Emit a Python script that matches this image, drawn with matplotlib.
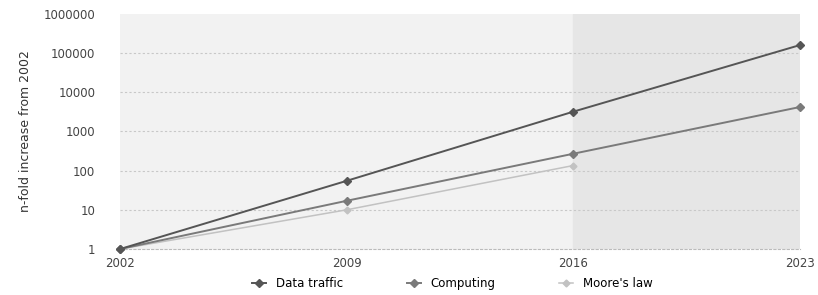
import numpy as np
import matplotlib.pyplot as plt
from matplotlib.ticker import FixedLocator, FixedFormatter, NullLocator

# Data
years = [2002, 2009, 2016, 2023]
data_traffic = [1, 55, 3200, 160000]
computing = [1, 17, 270, 4200]
moore_years = [2002, 2009, 2016]
moores_law = [1, 10, 135]

y_ticks = [1, 10, 100, 1000, 10000, 100000, 1000000]

fig = plt.figure(figsize=(8.18, 2.95), dpi=100)
ax = fig.add_axes([0.147, 0.156, 0.831, 0.797])

ax.set_yscale('log')
ax.set_xlim(2002, 2023)
ax.set_ylim(1, 1000000)

# Shaded backgrounds (forecast part darker)
ax.set_facecolor('#f2f2f2')
ax.axvspan(2016, 2023, color='#e6e6e6', zorder=0)

# Dotted horizontal grid
for t in y_ticks[1:-1]:
    ax.axhline(t, color='#c8c8c8', lw=0.8, ls=(0, (2, 2)), zorder=1)

ax.plot(moore_years, moores_law, color='#c2c2c2', lw=1.1, marker='D', ms=3.5,
        label="Moore's law", clip_on=False, zorder=3)
ax.plot(years, computing, color='#7a7a7a', lw=1.4, marker='D', ms=4,
        label='Computing', clip_on=False, zorder=4)
ax.plot(years, data_traffic, color='#555555', lw=1.4, marker='D', ms=4,
        label='Data traffic', clip_on=False, zorder=5)

for s in ['top', 'right', 'left']:
    ax.spines[s].set_visible(False)
ax.spines['bottom'].set_color('#bbbbbb')
ax.spines['bottom'].set_linestyle((0, (2, 2)))

ax.yaxis.set_major_locator(FixedLocator(y_ticks))
ax.yaxis.set_major_formatter(FixedFormatter([str(t) for t in y_ticks]))
ax.yaxis.set_minor_locator(NullLocator())
ax.set_xticks(years)
ax.set_xticklabels([str(y) for y in years])
ax.tick_params(axis='y', length=0, labelsize=8.5, colors='#444444', pad=18)
ax.tick_params(axis='x', length=0, labelsize=8.5, colors='#444444', pad=6)
ax.set_ylabel('n-fold increase from 2002', fontsize=9, color='#333333', labelpad=8)

handles, labels = ax.get_legend_handles_labels()
order = [2, 1, 0]
fig.legend([handles[i] for i in order], [labels[i] for i in order],
           loc='center', bbox_to_anchor=(0.553, 0.04), ncol=3, frameon=False,
           fontsize=8.5, handlelength=1.2, columnspacing=5.4)

fig.savefig('out.png', dpi=100)
